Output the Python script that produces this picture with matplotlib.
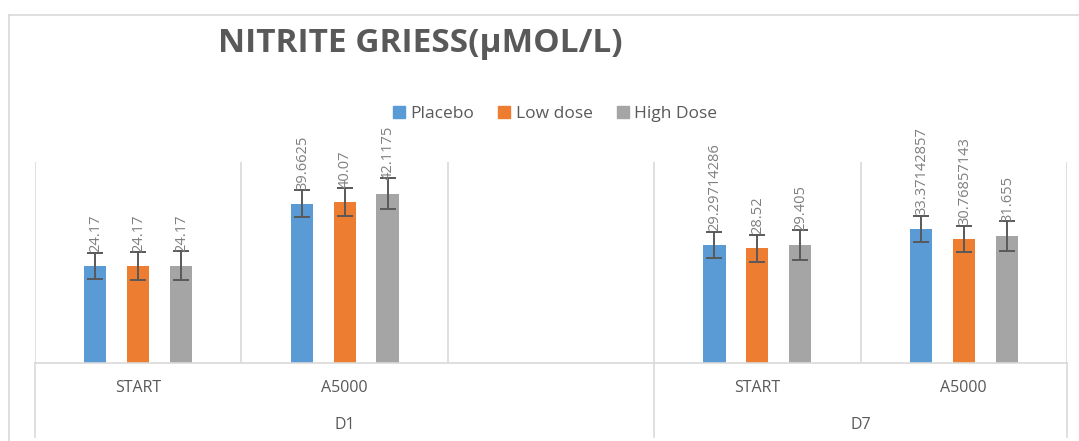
import matplotlib.pyplot as plt
from matplotlib.lines import Line2D
from matplotlib.patches import Patch

plt.rcParams['font.family'] = ['Open Sans', 'DejaVu Sans']

# slots on the category axis; the third D1 slot is empty
categories = ['START', 'A5000', '', 'START', 'A5000']
groups = ['D1', 'D7']
group_spans = [(0, 2), (3, 4)]

series = ['Placebo', 'Low dose', 'High Dose']
placebo = [24.17, 39.6625, None, 29.29714286, 33.37142857]
low_dose = [24.17, 40.07, None, 28.52, 30.76857143]
high_dose = [24.17, 42.1175, None, 29.405, 31.655]
values = [placebo, low_dose, high_dose]

placebo_err = [3.3, 3.3, None, 3.3, 3.3]
low_dose_err = [3.4, 3.5, None, 3.4, 3.2]
high_dose_err = [3.6, 3.8, None, 3.7, 3.7]
errors = [placebo_err, low_dose_err, high_dose_err]

labels = [
    ['24.17', '39.6625', '', '29.29714286', '33.37142857'],
    ['24.17', '40.07', '', '28.52', '30.76857143'],
    ['24.17', '42.1175', '', '29.405', '31.655'],
]

colors = ['#5B9BD5', '#ED7D31', '#A5A5A5']
grid_color = '#D9D9D9'
text_color = '#595959'

fig = plt.figure(figsize=(10.79, 4.41), dpi=100)
ax = fig.add_axes([35 / 1079, 1 - 363 / 441, (1067 - 35) / 1079, (363 - 162) / 441])

offsets = [-0.208, 0.0, 0.208]
width = 0.107
for s, (vals, errs, labs) in enumerate(zip(values, errors, labels)):
    for i, (v, e, lab) in enumerate(zip(vals, errs, labs)):
        if v is None:
            continue
        x = i + offsets[s]
        ax.bar(x, v, width=width, color=colors[s], zorder=2)
        ax.errorbar(x, v, yerr=e, color=text_color, capsize=6, elinewidth=1.4,
                    capthick=1.4, zorder=3)
        ax.annotate(lab, (x, v), xytext=(0.5, 10), textcoords='offset points',
                    rotation=90, ha='center', va='bottom', fontsize=10.5,
                    color='#7F7F7F', zorder=4)

ax.set_xlim(-0.5, len(categories) - 0.5)
ax.set_ylim(0, 50)
for side in ['top', 'right', 'left']:
    ax.spines[side].set_visible(False)
ax.spines['bottom'].set_color(grid_color)
ax.spines['bottom'].set_linewidth(1.2)
ax.set_xticks([])
ax.set_yticks([])

# vertical separators between categories
for b in range(len(categories) + 1):
    ax.axvline(b - 0.5, color=grid_color, lw=1.2, zorder=1)
# group separators run down through the label rows
for b in [-0.5, 2.5, 4.5]:
    ax.plot([b, b], [0, -0.37], color=grid_color, lw=1.2,
            transform=ax.get_xaxis_transform(), clip_on=False)

for i, cat in enumerate(categories):
    ax.text(i, -0.124, cat, transform=ax.get_xaxis_transform(), ha='center',
            va='center', fontsize=11.5, color=text_color)
for g, (a, b) in zip(groups, group_spans):
    ax.text((a + b) / 2, -0.308, g, transform=ax.get_xaxis_transform(),
            ha='center', va='center', fontsize=11.5, color=text_color)

# chart frame (top and left edges visible)
fig.add_artist(Line2D([9 / 1079, 1], [1 - 15 / 441, 1 - 15 / 441],
                      color=grid_color, lw=1.2))
fig.add_artist(Line2D([9 / 1079, 9 / 1079], [0, 1 - 15 / 441],
                      color=grid_color, lw=1.2))

fig.text(218 / 1079, 1 - 44 / 441, 'NITRITE GRIESS(μMOL/L)', ha='left',
         va='center', fontsize=24, fontweight='bold', color=text_color)

handles = [Patch(color=c, label=s) for c, s in zip(colors, series)]
fig.legend(handles=handles, loc='center', bbox_to_anchor=(555 / 1079, 1 - 114 / 441),
           ncol=3, frameon=False, fontsize=12.5, handlelength=0.7, handleheight=0.7,
           handletextpad=0.3, columnspacing=1.4, labelcolor=text_color)

fig.savefig('out.png', dpi=100)
